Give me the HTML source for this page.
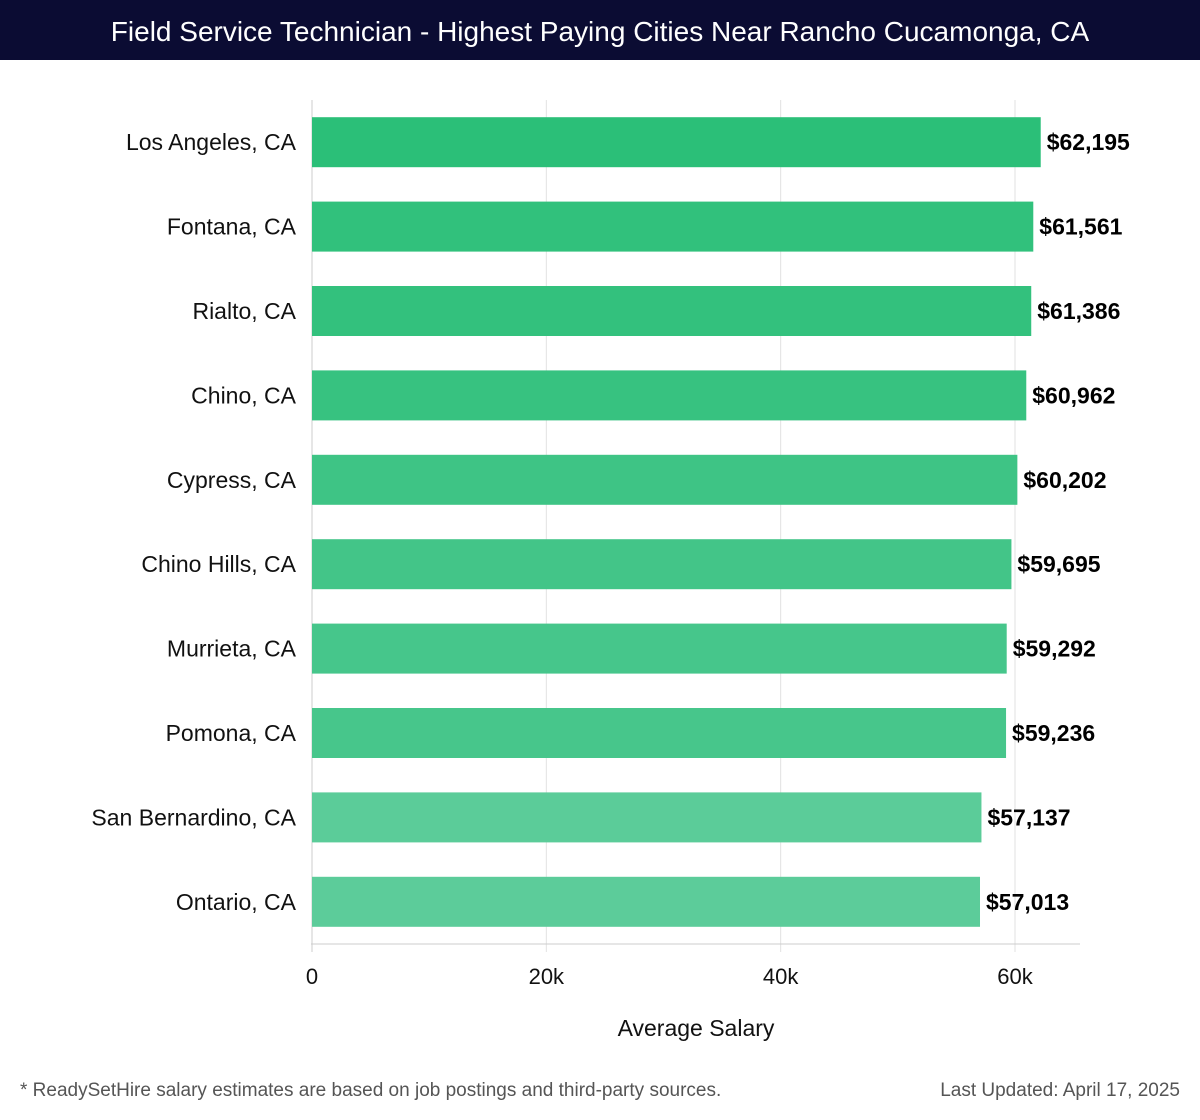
<!DOCTYPE html>
<html><head><meta charset="utf-8"><style>
body{margin:0;width:1200px;height:1120px;background:#fff;font-family:"Liberation Sans","DejaVu Sans",sans-serif;overflow:hidden;position:relative}
#title{position:absolute;left:0;top:0;width:1200px;height:60px;background:#0b0c33;color:#fff;font-size:28px;line-height:64px;text-align:center}
.foot{position:absolute;top:1080px;font-size:19px;color:#555}
</style></head><body>
<div id="title">Field Service Technician - Highest Paying Cities Near Rancho Cucamonga, CA</div>
<svg id="chart" width="1200" height="1070" style="position:absolute;left:0;top:0" xmlns="http://www.w3.org/2000/svg"></svg>
<div class="foot" style="left:20px">* ReadySetHire salary estimates are based on job postings and third-party sources.</div>
<div class="foot" style="right:20px">Last Updated: April 17, 2025</div>
<script>
const cities=["Los Angeles, CA","Fontana, CA","Rialto, CA","Chino, CA","Cypress, CA","Chino Hills, CA","Murrieta, CA","Pomona, CA","San Bernardino, CA","Ontario, CA"];
const salaries=[62195,61561,61386,60962,60202,59695,59292,59236,57137,57013];
const tickValues=[0,20000,40000,60000];
const tickLabels=["0","20k","40k","60k"];
const svg=document.getElementById('chart');
const NS='http://www.w3.org/2000/svg';
const x0=312,x60=1015,top0=100,axisY=944;
const xs=v=>x0+(x60-x0)*v/60000;
const step=(axisY-top0)/cities.length;
const yc=i=>top0+step*(i+0.5);
function mk(t,a){const e=document.createElementNS(NS,t);for(const k in a)e.setAttribute(k,a[k]);svg.appendChild(e);return e;}
tickValues.forEach((v,i)=>{
  const g=mk('line',{x1:xs(v),x2:xs(v),y1:top0,y2:axisY+8,stroke:i==0?'#ccc':'#e2e2e2','stroke-width':1});
  
  
  const t=mk('text',{x:xs(v),y:984,'text-anchor':'middle','font-size':22,fill:'#111'});
  t.textContent=tickLabels[i];
  
  
});
const ax=mk('line',{x1:x0-1,x2:1080,y1:axisY,y2:axisY,stroke:'#ccc'});


const mx=Math.max(...salaries),mn=Math.min(...salaries);
salaries.forEach((v,i)=>{
  const f=(mx-v)/(mx-mn||1);
  const c=`rgb(${Math.round(43+f*49)},${Math.round(191+f*13)},${Math.round(120+f*34)})`;
  const r=mk('rect',{x:x0,y:yc(i)-25,width:xs(v)-x0,height:50,fill:c});
  
  
  const l=mk('text',{x:xs(v)+6,y:yc(i)+8,'font-size':23,'font-weight':'bold',fill:'#000'});
  l.textContent='$'+v.toLocaleString('en-US');
  
  
  const c2=mk('text',{x:296,y:yc(i)+8,'text-anchor':'end','font-size':23,fill:'#111'});
  c2.textContent=cities[i];
  
  
});
const at=mk('text',{x:696,y:1036,'text-anchor':'middle','font-size':23,fill:'#111'});
at.textContent='Average Salary';


</script>
</body></html>
